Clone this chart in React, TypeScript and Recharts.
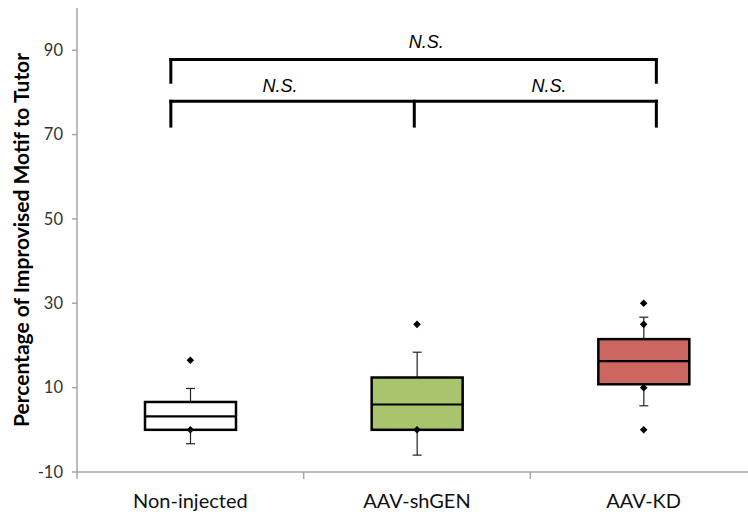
import {
  ComposedChart,
  Bar,
  Scatter,
  XAxis,
  YAxis,
  ReferenceLine,
  ReferenceDot,
} from "recharts";

const categories = ["Non-injected", "AAV-shGEN", "AAV-KD"];
const whiskerLow = [-3.3, -6, 5.7];
const quartile1 = [0, 0, 10.8];
const medians = [3.2, 6, 16.3];
const quartile3 = [6.6, 12.4, 21.5];
const whiskerHigh = [9.8, 18.4, 26.7];
const boxColors = ["#FFFFFF", "#A8C46C", "#CC6660"];
const pointValues = [
  [16.5, 0],
  [25, 0],
  [30, 25, 10, 0],
];
const yTicks = [-10, 10, 30, 50, 70, 90];

// brackets, in category units (0..3) on a hidden numeric axis
const bracketX = [0.414, 1.488, 2.556];
const upperBracket = { top: 87.8, end: 82.4 };
const lowerBracket = { top: 77.9, end: 72 };
const nsLabels = [
  { x: 1.541, y: 91.85 },
  { x: 0.896, y: 81.5 },
  { x: 2.082, y: 81.5 },
];

const AXIS_GREY = "#A6A6A6";
const TEXT_FONT = "Lato, 'Open Sans', sans-serif";

const boxData = categories.map((name, i) => ({
  name,
  pos: i + 0.5,
  range: [whiskerLow[i], whiskerHigh[i]],
  low: whiskerLow[i],
  high: whiskerHigh[i],
  q1: quartile1[i],
  median: medians[i],
  q3: quartile3[i],
  color: boxColors[i],
}));

const pointData = categories.flatMap((name, i) =>
  pointValues[i].map((value) => ({ name, value }))
);

function BoxShape(props: any) {
  const { x, y, width, height, payload } = props;
  const { low, high, q1, median, q3, color } = payload;
  const unit = height / (high - low);
  const py = (v: number) => y + (high - v) * unit;
  const cx = x + width / 2;
  const cap = 4.5;
  return (
    <g>
      <line x1={cx} x2={cx} y1={py(high)} y2={py(low)} stroke="#222" strokeWidth={1.2} />
      <line x1={cx - cap} x2={cx + cap} y1={py(high)} y2={py(high)} stroke="#222" strokeWidth={1.2} />
      <line x1={cx - cap} x2={cx + cap} y1={py(low)} y2={py(low)} stroke="#222" strokeWidth={1.2} />
      <rect x={x} y={py(q3)} width={width} height={py(q1) - py(q3)} fill={color} stroke="#000" strokeWidth={2.5} />
      <line x1={x} x2={x + width} y1={py(median)} y2={py(median)} stroke="#000" strokeWidth={2.2} />
    </g>
  );
}

function Diamond(props: any) {
  const { cx, cy } = props;
  const r = 3.8;
  return <polygon points={`${cx},${cy - r} ${cx + r},${cy} ${cx},${cy + r} ${cx - r},${cy}`} fill="#000" />;
}

function CategoryTick(props: any) {
  const { x, y, payload, index } = props;
  const half = payload.offset ?? 0;
  const axisY = y - 6;
  return (
    <g>
      {index === 0 && (
        <line x1={x - half} x2={x - half} y1={axisY} y2={axisY + 7} stroke={AXIS_GREY} strokeWidth={1.5} />
      )}
      <line x1={x + half} x2={x + half} y1={axisY} y2={axisY + 7} stroke={AXIS_GREY} strokeWidth={1.5} />
      <text x={x} y={y + 30} textAnchor="middle" fontFamily={TEXT_FONT} fontSize={20} fill="#111">
        {payload.value}
      </text>
    </g>
  );
}

function NsLabel(props: any) {
  const { cx, cy } = props;
  return (
    <text
      x={cx}
      y={cy}
      textAnchor="middle"
      dominantBaseline="central"
      fontFamily="'Liberation Sans', Arial, sans-serif"
      fontStyle="italic"
      fontSize={18}
      fill="#000"
    >
      N.S.
    </text>
  );
}

export default function App() {
  const bracketLine = {
    xAxisId: "ann",
    stroke: "#000",
    strokeWidth: 3,
    strokeLinecap: "square" as const,
    ifOverflow: "visible" as const,
  };
  return (
    <div style={{ position: "absolute", left: 0, top: 0, width: 748, height: 516, overflow: "hidden", background: "#fff" }}>
      <ComposedChart width={757} height={516} data={boxData} margin={{ top: 8, right: 0, bottom: 0, left: 0 }}>
        <XAxis
          dataKey="name"
          type="category"
          allowDuplicatedCategory={false}
          height={44}
          axisLine={{ stroke: AXIS_GREY, strokeWidth: 1.5 }}
          tickLine={false}
          tickSize={6}
          tickMargin={0}
          tick={CategoryTick}
          interval={0}
        />
        <XAxis
          xAxisId="ann"
          dataKey="pos"
          type="number"
          scale="linear"
          domain={[0, 3]}
          allowDataOverflow
          padding={{ left: 0, right: 0 }}
          hide
        />
        <YAxis
          type="number"
          domain={[-10, 100]}
          ticks={yTicks}
          interval={0}
          allowDataOverflow
          width={77}
          axisLine={{ stroke: AXIS_GREY, strokeWidth: 1.5 }}
          tickLine={{ stroke: AXIS_GREY, strokeWidth: 1.5 }}
          tickSize={5}
          tickMargin={9}
          tick={{ fontFamily: TEXT_FONT, fontSize: 16.5, fill: "#333" }}
          label={{
            content: (p: any) => {
              const vb = p.viewBox;
              const lx = vb.x + 20;
              const ly = vb.y + vb.height / 2;
              return (
                <text
                  transform={`rotate(-90, ${lx}, ${ly})`}
                  x={lx}
                  y={ly}
                  textAnchor="middle"
                  dominantBaseline="central"
                  fontFamily={TEXT_FONT}
                  fontWeight="bold"
                  fontSize={21}
                  fill="#000"
                >
                  Percentage of Improvised Motif to Tutor
                </text>
              );
            },
          }}
        />
        <Bar dataKey="range" barSize={91} shape={BoxShape} isAnimationActive={false} />
        <Scatter data={pointData} dataKey="value" shape={Diamond} isAnimationActive={false} />

        <ReferenceLine {...bracketLine} segment={[{ x: bracketX[0], y: upperBracket.top }, { x: bracketX[2], y: upperBracket.top }]} />
        <ReferenceLine {...bracketLine} segment={[{ x: bracketX[0], y: upperBracket.end }, { x: bracketX[0], y: upperBracket.top }]} />
        <ReferenceLine {...bracketLine} segment={[{ x: bracketX[2], y: upperBracket.end }, { x: bracketX[2], y: upperBracket.top }]} />

        <ReferenceLine {...bracketLine} segment={[{ x: bracketX[0], y: lowerBracket.top }, { x: bracketX[2], y: lowerBracket.top }]} />
        {bracketX.map((bx) => (
          <ReferenceLine key={bx} {...bracketLine} segment={[{ x: bx, y: lowerBracket.end }, { x: bx, y: lowerBracket.top }]} />
        ))}

        {nsLabels.map((l) => (
          <ReferenceDot key={l.x} xAxisId="ann" x={l.x} y={l.y} r={0} ifOverflow="visible" shape={NsLabel} />
        ))}
      </ComposedChart>
    </div>
  );
}
